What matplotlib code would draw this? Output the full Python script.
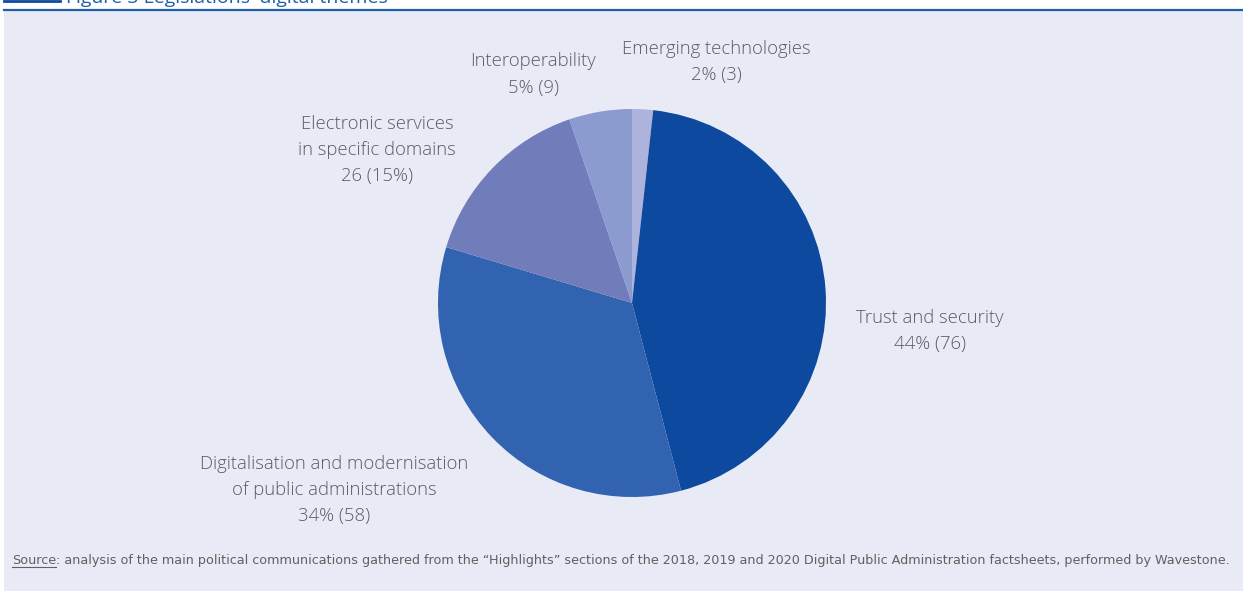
import matplotlib.pyplot as plt
from matplotlib.patches import Rectangle
from matplotlib.lines import Line2D

# data
themes = ['Emerging technologies', 'Trust and security',
          'Digitalisation and modernisation\nof public administrations',
          'Electronic services\nin specific domains', 'Interoperability']
counts = [3, 76, 58, 26, 9]
label_texts = ['Emerging technologies\n2% (3)',
               'Trust and security\n44% (76)',
               'Digitalisation and modernisation\nof public administrations\n34% (58)',
               'Electronic services\nin specific domains\n26 (15%)',
               'Interoperability\n5% (9)']
colors = ['#adb3db', '#0d4a9f', '#3163b0', '#717cbb', '#8b9bd0']

# label placement (data units, pie radius = 1)
label_pos = [(0.433, 1.242), (1.536, -0.144), (-1.536, -0.964),
             (-1.314, 0.789), (-0.510, 1.178)]

W, H = 1243, 591
cx, cy, R = 632, 303, 194

fig = plt.figure(figsize=(W / 100, H / 100), dpi=100)
fig.patch.set_facecolor('white')

# lavender panel + header rule
fig.patches.append(Rectangle((4 / W, 0), 1 - 4 / W, 1 - 11 / H,
                             transform=fig.transFigure, facecolor='#e8eaf5',
                             edgecolor='none', zorder=-5))
fig.lines.append(Line2D([4 / W, 1], [1 - 10 / H, 1 - 10 / H],
                        transform=fig.transFigure, color='#1f5fa8', lw=1.6))
fig.lines.append(Line2D([4 / W, 60 / W], [1 - 0.8 / H, 1 - 0.8 / H],
                        transform=fig.transFigure, color='#0d4a9f', lw=2.0))
fig.text(66 / W, 1 - 3 / H, "Figure 3 Legislations' digital themes",
         color='#1f5fa8', fontsize=14, family='Open Sans', va='baseline')

ax = fig.add_axes([0, 0, 1, 1], zorder=2)
ax.set_facecolor('none')
ax.axis('off')

ax.pie(counts, colors=colors, startangle=90, counterclock=False,
       radius=1, wedgeprops=dict(linewidth=0))
ax.set_xlim(-cx / R, (W - cx) / R)
ax.set_ylim(-(H - cy) / R, cy / R)
ax.set_aspect('auto')

for txt, (x, y) in zip(label_texts, label_pos):
    ax.text(x, y, txt, ha='center', va='center', fontsize=13.3,
            family='Open Sans', weight='light', color='#5c5c5c',
            linespacing=1.58)

# source line with underlined "Source", scaled to span the panel width
src_rest = (': analysis of the main political communications gathered from the \u201cHighlights\u201d '
            'sections of the 2018, 2019 and 2020 Digital Public Administration factsheets, '
            'performed by Wavestone.')
src_font = dict(fontsize=10, family='DejaVu Sans', color='#606060', va='baseline')
probe = fig.text(0, 0, 'Source' + src_rest, **src_font)
fig.canvas.draw()
fs = 10 * 1212 / probe.get_window_extent().width
probe.remove()
src_font['fontsize'] = fs

t1 = fig.text(12 / W, 1 - 564 / H, 'Source', **src_font)
fig.canvas.draw()
bb = t1.get_window_extent()
x0, x1 = bb.x0 / W, bb.x1 / W
fig.lines.append(Line2D([x0, x1], [1 - 566.5 / H, 1 - 566.5 / H],
                        transform=fig.transFigure, color='#606060', lw=0.8))
fig.text(x1, 1 - 564 / H, src_rest, **src_font)

fig.savefig('out.png', dpi=100)
